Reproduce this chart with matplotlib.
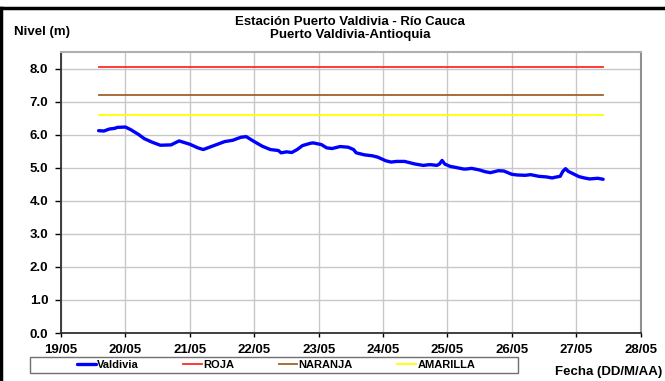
import matplotlib
matplotlib.use("Agg")
import matplotlib.pyplot as plt
from matplotlib.lines import Line2D
from matplotlib.patches import Rectangle

plt.rcParams['font.family'] = ['Liberation Sans', 'DejaVu Sans']
plt.rcParams['font.weight'] = 'bold'

# ---- data ----
# hours since 19/05 00:00
horas = [14, 16, 18, 20, 21, 24, 26, 29, 31, 34, 37, 41, 44, 48, 51, 53, 56,
         61, 64, 67, 69, 72, 75, 78, 81, 82, 84, 86, 88, 90, 93, 94, 97, 99,
         101, 104, 107, 109, 110, 113, 116, 118, 121, 123, 125, 128, 130, 132,
         135, 137, 138, 140, 141, 142, 143, 145, 147, 150, 151, 153, 156, 158,
         160, 163, 165, 168, 170, 173, 175, 178, 181, 183, 184, 186, 187, 188,
         189, 191, 193, 195, 197, 200, 202]
nivel = [6.12, 6.11, 6.17, 6.19, 6.22, 6.23, 6.15, 6.00, 5.88, 5.77, 5.68,
         5.69, 5.81, 5.71, 5.60, 5.55, 5.64, 5.79, 5.83, 5.92, 5.94, 5.79,
         5.65, 5.55, 5.52, 5.45, 5.48, 5.46, 5.55, 5.67, 5.74, 5.75, 5.70,
         5.60, 5.58, 5.64, 5.62, 5.55, 5.45, 5.39, 5.36, 5.32, 5.21, 5.17,
         5.19, 5.19, 5.15, 5.11, 5.07, 5.09, 5.09, 5.07, 5.11, 5.22, 5.11,
         5.04, 5.01, 4.96, 4.96, 4.98, 4.93, 4.88, 4.85, 4.91, 4.90, 4.80,
         4.78, 4.77, 4.79, 4.74, 4.72, 4.69, 4.71, 4.74, 4.89, 4.97, 4.89,
         4.81, 4.73, 4.69, 4.66, 4.68, 4.65]

umbral_nombres = ['ROJA', 'NARANJA', 'AMARILLA']
umbral_valores = [8.05, 7.2, 6.6]
umbral_colores = ['#FF2A2A', '#A0622D', '#FFFF00']

dias = [19, 20, 21, 22, 23, 24, 25, 26, 27, 28]
etiquetas_x = ['19/05', '20/05', '21/05', '22/05', '23/05', '24/05',
               '25/05', '26/05', '27/05', '28/05']
yticks = [0, 1, 2, 3, 4, 5, 6, 7, 8]

titulo = 'Estación Puerto Valdivia - Río Cauca\nPuerto Valdivia-Antioquia'

# ---- figure ----
W, H = 665, 381
fig = plt.figure(figsize=(W / 100, H / 100), dpi=100)
ax = fig.add_axes([61 / W, (H - 333) / H, (640.7 - 61) / W, (333 - 52) / H])

x = [19 + h / 24 for h in horas]
ax.plot(x, nivel, color='#0000FF', lw=2.4, label='Valdivia', zorder=5,
        solid_capstyle='round', solid_joinstyle='round')
for nm, v, c in zip(umbral_nombres, umbral_valores, umbral_colores):
    ax.plot([x[0], x[-1]], [v, v], color=c, lw=1.3, label=nm, zorder=4)

ax.set_xlim(19, 28)
ax.set_ylim(0, 8.5)
ax.set_xticks(dias)
ax.set_xticklabels(etiquetas_x)
ax.set_yticks(yticks)
ax.set_yticklabels([f'{v:.1f}' for v in yticks])
ax.grid(True, color='#C8C8C8', lw=1.0)
ax.set_axisbelow(True)

for lab in ax.get_xticklabels() + ax.get_yticklabels():
    lab.set_fontweight('bold')
    lab.set_fontsize(9.5)
ax.tick_params(axis='y', length=4, width=1, pad=5, direction='out')
ax.tick_params(axis='x', length=3, width=1, pad=5, direction='out')

ax.spines['left'].set_color('#303030')
ax.spines['bottom'].set_color('#303030')
ax.spines['left'].set_linewidth(1.3)
ax.spines['bottom'].set_linewidth(1.3)
ax.spines['top'].set_color('#B0B0B0')
ax.spines['right'].set_color('#909090')
ax.spines['top'].set_linewidth(1.5)
ax.spines['right'].set_linewidth(1.5)

fig.text(350 / W, 1 - 28.5 / H, titulo, ha='center', va='center',
         fontsize=9.5, fontweight='bold', linespacing=1.12)
fig.text(14 / W, 1 - 32 / H, 'Nivel (m)', ha='left', va='center',
         fontsize=9.5, fontweight='bold')
fig.text(662 / W, 1 - 372 / H, 'Fecha (DD/M/AA)', ha='right', va='center',
         fontsize=9.5, fontweight='bold')

# legend frame
fig.add_artist(Rectangle((30 / W, 1 - 373 / H), (518 - 30) / W, 16 / H,
                         transform=fig.transFigure, facecolor='white',
                         edgecolor='#707070', lw=1.0))
handles, labels = ax.get_legend_handles_labels()
leg = fig.legend(handles, labels, loc='center', ncol=4,
                 bbox_to_anchor=(276 / W, 1 - 365 / H), frameon=False,
                 prop={'size': 8, 'weight': 'bold'}, handlelength=1.7,
                 handletextpad=0.1, columnspacing=4.0, borderpad=0.0)

# outer border (top and left)
fig.add_artist(Line2D([0, 1], [1 - 8 / H, 1 - 8 / H], transform=fig.transFigure,
                      color='black', lw=2.5))
fig.add_artist(Line2D([1.2 / W, 1.2 / W], [0, 1 - 8 / H], transform=fig.transFigure,
                      color='black', lw=2.5))

fig.savefig('out.png', dpi=100)
